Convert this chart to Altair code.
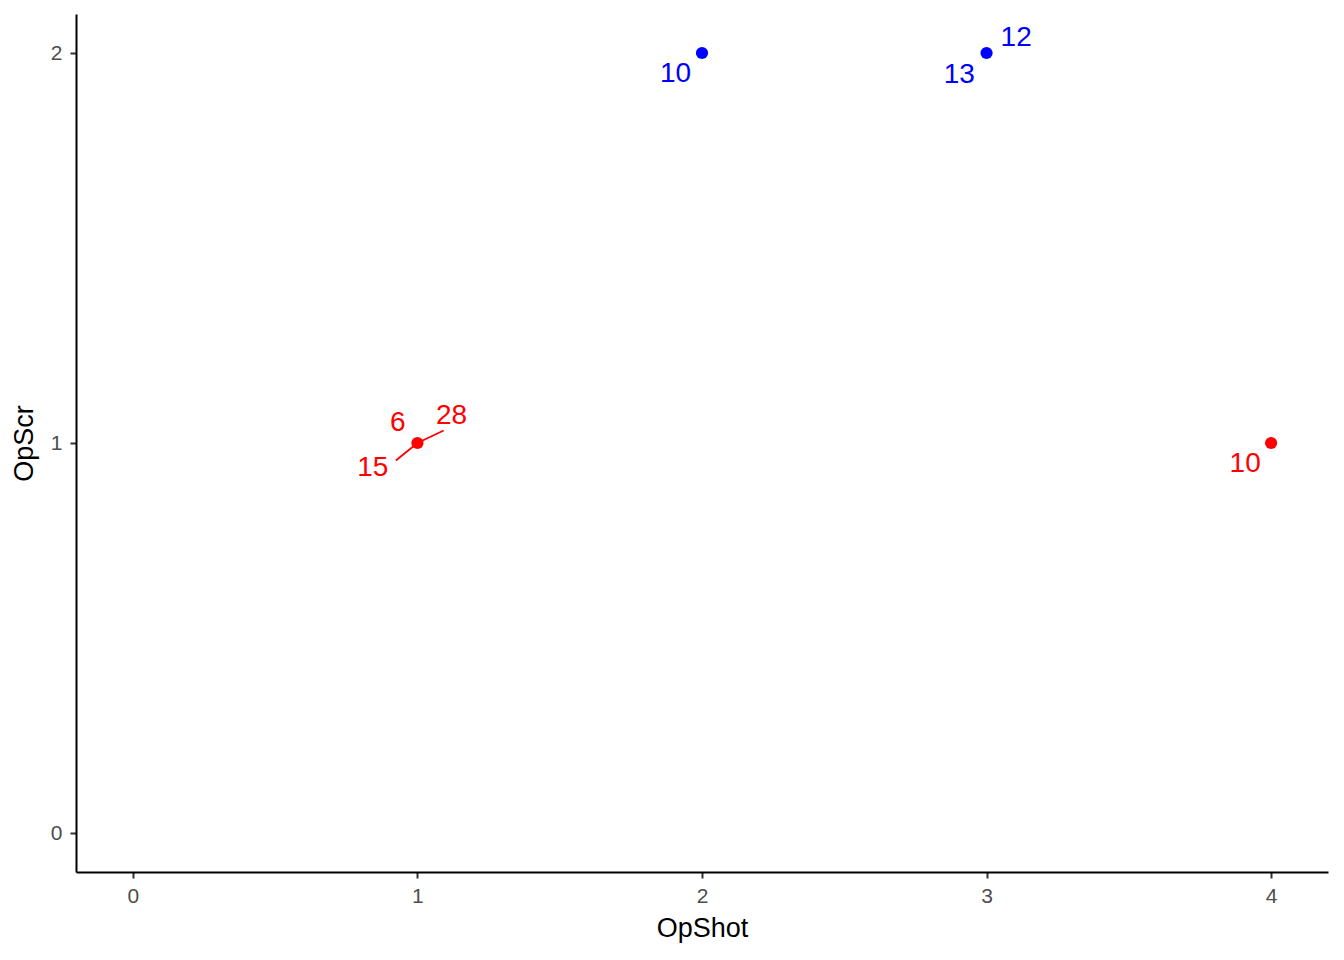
import altair as alt
import pandas as pd

# points
pt_x = [1, 2, 3, 4]
pt_y = [1, 2, 2, 1]
pt_group = ["a", "b", "b", "a"]

# labels (text, anchor point, repelled label position in data units)
lab_text = ["6", "28", "15", "10", "12", "13", "10"]
lab_group = ["a", "a", "a", "b", "b", "b", "a"]
lab_x = [0.931, 1.120, 0.843, 1.907, 3.104, 2.904, 3.909]
lab_y = [1.052, 1.070, 0.935, 1.946, 2.038, 1.944, 0.947]

# leader segments (start near label -> point)
seg_x = [0.924, 1.092]
seg_y = [0.955, 1.032]
seg_x2 = [1, 1]
seg_y2 = [1, 1]
seg_group = ["a", "a"]

colors = {"a": "#FF0000", "b": "#0000FF"}
dom = list(colors.keys())
rng = list(colors.values())

pts = pd.DataFrame({"x": pt_x, "y": pt_y, "g": pt_group})
labs = pd.DataFrame({"x": lab_x, "y": lab_y, "t": lab_text, "g": lab_group})
segs = pd.DataFrame({"x": seg_x, "y": seg_y, "x2": seg_x2, "y2": seg_y2, "g": seg_group})

xscale = alt.Scale(domain=[-0.2, 4.2], nice=False, zero=False)
yscale = alt.Scale(domain=[-0.1, 2.1], nice=False, zero=False)
cscale = alt.Scale(domain=dom, range=rng)

xaxis = alt.Axis(title="OpShot", values=[0, 1, 2, 3, 4], format="d", grid=False,
                 domainColor="black", domainWidth=2, tickColor="#333333", tickWidth=2,
                 tickSize=6, labelColor="#4D4D4D", labelFontSize=21, labelFont="Arial",
                 labelPadding=7, titleFontSize=27, titleFont="Arial", titleFontWeight="normal",
                 titleColor="black", titlePadding=9)
yaxis = alt.Axis(title="OpScr", values=[0, 1, 2], format="d", grid=False,
                 domainColor="black", domainWidth=2, tickColor="#333333", tickWidth=2,
                 tickSize=6, labelColor="#4D4D4D", labelFontSize=21, labelFont="Arial",
                 labelPadding=8, titleFontSize=27, titleFont="Arial", titleFontWeight="normal",
                 titleColor="black", titlePadding=12)

points = alt.Chart(pts).mark_circle(size=150, opacity=1).encode(
    x=alt.X("x:Q", scale=xscale, axis=xaxis),
    y=alt.Y("y:Q", scale=yscale, axis=yaxis),
    color=alt.Color("g:N", scale=cscale, legend=None),
)

segments = alt.Chart(segs).mark_rule(strokeWidth=1.8).encode(
    x=alt.X("x:Q", scale=xscale),
    y=alt.Y("y:Q", scale=yscale),
    x2="x2:Q",
    y2="y2:Q",
    color=alt.Color("g:N", scale=cscale, legend=None),
)

texts = alt.Chart(labs).mark_text(fontSize=28, font="Arial", baseline="middle", align="center").encode(
    x=alt.X("x:Q", scale=xscale),
    y=alt.Y("y:Q", scale=yscale),
    text="t:N",
    color=alt.Color("g:N", scale=cscale, legend=None),
)

chart = alt.layer(segments, points, texts).properties(
    width=1252, height=858,
    autosize=alt.AutoSizeParams(type="none"),
    padding={"left": 68, "top": 6, "right": 8, "bottom": 80},
).configure(background="white").configure_view(stroke=None, strokeWidth=0)

chart.save("out.html", embed_options={"renderer": "svg", "actions": False})
